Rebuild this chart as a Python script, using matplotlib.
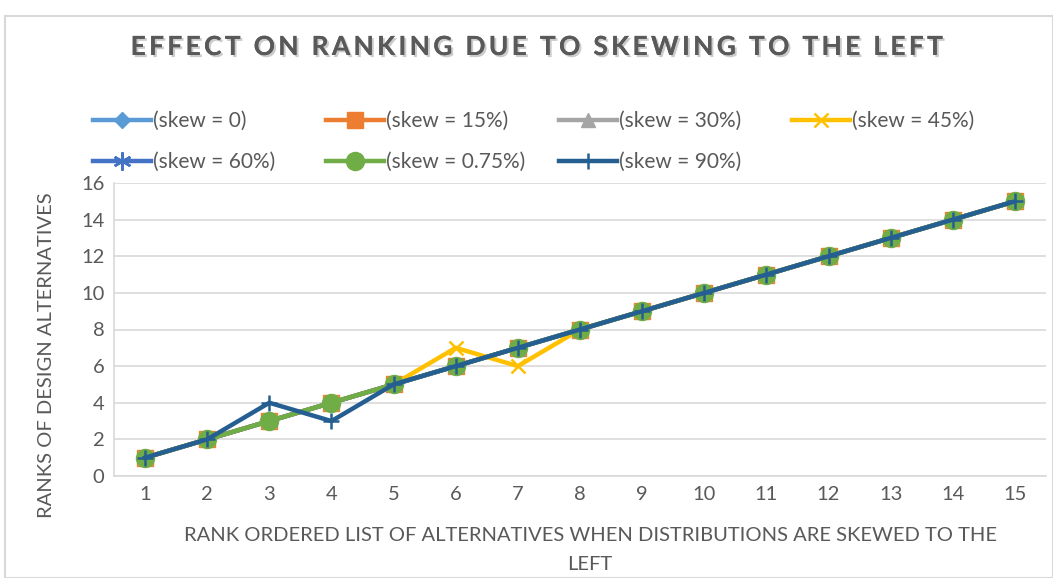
import matplotlib
matplotlib.use('Agg')
import matplotlib.pyplot as plt
import matplotlib.patheffects as pe
from matplotlib.patches import Rectangle

plt.rcParams['font.family'] = ['Lato', 'DejaVu Sans']

alts = list(range(1, 16))
skew_0 = [1, 2, 3, 4, 5, 6, 7, 8, 9, 10, 11, 12, 13, 14, 15]
skew_15 = [1, 2, 3, 4, 5, 6, 7, 8, 9, 10, 11, 12, 13, 14, 15]
skew_30 = [1, 2, 3, 4, 5, 6, 7, 8, 9, 10, 11, 12, 13, 14, 15]
skew_45 = [1, 2, 3, 4, 5, 7, 6, 8, 9, 10, 11, 12, 13, 14, 15]
skew_60 = [1, 2, 3, 4, 5, 6, 7, 8, 9, 10, 11, 12, 13, 14, 15]
skew_075 = [1, 2, 3, 4, 5, 6, 7, 8, 9, 10, 11, 12, 13, 14, 15]
skew_90 = [1, 2, 4, 3, 5, 6, 7, 8, 9, 10, 11, 12, 13, 14, 15]

labels = ['(skew = 0)', '(skew = 15%)', '(skew = 30%)', '(skew = 45%)',
          '(skew = 60%)', '(skew = 0.75%)', '(skew = 90%)']
series = [skew_0, skew_15, skew_30, skew_45, skew_60, skew_075, skew_90]
colors = ['#5B9BD5', '#ED7D31', '#A5A5A5', '#FFC000', '#4472C4', '#70AD47', '#255E91']
markers = ['D', 's', '^', 'x', (6, 2, 0), 'o', '+']
msizes = [8, 12, 10, 10, 13, 13, 12]

txt = '#595959'
W, H = 1053, 578
fig = plt.figure(figsize=(W / 100, H / 100), dpi=100)
fig.patches.append(Rectangle((5 / W, 0), 1 - 5 / W, 1 - 16 / H, transform=fig.transFigure,
                             fill=False, edgecolor='#D9D9D9', lw=1.5))
ax = fig.add_axes([114 / W, 1 - 476 / H, (1046 - 114) / W, (476 - 183) / H])

handles = []
for y, lab, c, m, ms in zip(series, labels, colors, markers, msizes):
    mew = 1 if m in ('D', 's', '^', 'o') else 1.8
    h, = ax.plot(alts, y, color=c, lw=3.2, marker=m, markersize=ms, markeredgewidth=mew,
                 markerfacecolor=c, markeredgecolor=c, label=lab)
    handles.append(h)

ax.set_xlim(0.5, 15.5)
ax.set_ylim(0, 16)
ax.set_xticks(alts)
ax.set_yticks(range(0, 17, 2))
ax.tick_params(length=0, labelsize=14.5, colors=txt, pad=7)
ax.grid(axis='y', color='#D9D9D9', lw=1.2)
ax.set_axisbelow(True)
for s in ['top', 'right']:
    ax.spines[s].set_visible(False)
for s in ['left', 'bottom']:
    ax.spines[s].set_color('#D9D9D9')
    ax.spines[s].set_linewidth(1.2)

ax.set_ylabel('RANKS OF DESIGN ALTERNATIVES', fontsize=14.5, color=txt, va='center')
ax.yaxis.set_label_coords((47 - 114) / 932, (476 - 355) / 293)
ax.set_xlabel('RANK ORDERED LIST OF ALTERNATIVES WHEN DISTRIBUTIONS ARE SKEWED TO THE\nLEFT',
              fontsize=14.5, color=txt, linespacing=1.8, va='center')
ax.xaxis.set_label_coords((590 - 114) / 932, (476 - 550) / 293)

title = 'EFFECT ON RANKING DUE TO SKEWING TO THE LEFT'
fig.text(0.508, 1 - 47 / H, '\u2009'.join(title),
         ha='center', va='center', fontsize=19, fontweight='bold', color='#595959',
         path_effects=[pe.withSimplePatchShadow(offset=(1.5, -1.5), shadow_rgbFace='#999999', alpha=0.5),
                       pe.Normal()])

# legend entries laid out on an equal-width grid like Excel
col_x = [93, 326, 559, 792]
row_y = [121, 162]
for i, h in enumerate(handles):
    x = col_x[i % 4]
    y = row_y[i // 4]
    leg = fig.legend(handles=[h], loc='center left', bbox_to_anchor=(x / W, 1 - y / H),
                     frameon=False, fontsize=15, handlelength=2.8, handletextpad=0.1,
                     borderpad=0, borderaxespad=0)
    for t in leg.get_texts():
        t.set_color(txt)

fig.savefig('out.png', dpi=100)
